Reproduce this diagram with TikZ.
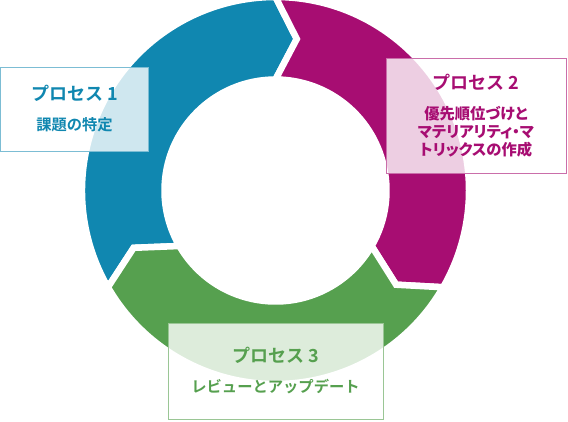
\documentclass[tikz,border=0pt]{standalone}
\usepackage{fontspec}
\setmainfont{Noto Sans CJK JP}[BoldFont={Noto Sans CJK JP Bold}]
\newfontfamily\paltfont{Noto Sans CJK JP Bold}[RawFeature=+palt]
\usetikzlibrary{positioning}

\definecolor{procblue}{RGB}{16,135,176}
\definecolor{procmagenta}{RGB}{167,13,114}
\definecolor{procgreen}{RGB}{86,160,79}

\newcommand{\proctitle}{\fontsize{18}{18}\selectfont}
% one arrow of the ring: colour, tail angle, head angle
\newcommand{\ringpart}[3]{%
  \fill[#1, ring] (#2:193.5) arc[start angle=#2, end angle=#3, radius=193.5]
    -- (#3-8:153) -- (#3:111) arc[start angle=#3, end angle=#2, radius=111]
    -- (#2-8:153) -- cycle;}

\begin{document}
\begin{tikzpicture}[
      x=1pt, y=1pt,
      ring/.style={draw=white, line width=6.5pt, line join=miter},
      procbox/.style={fill=white, fill opacity=0.8, text opacity=1, line width=1pt,
        align=center, inner sep=0pt, font=\bfseries\fontsize{15.3}{18}\selectfont}
    ]
    \useasboundingbox (0,0) rectangle (568,-421);

    \begin{scope}[shift={(275.5,-190.5)}]
      \ringpart{procblue}{210}{90}
      \ringpart{procmagenta}{90}{-30}
      \ringpart{procgreen}{330}{210}
    \end{scope}

    \node[procbox, draw=procblue!55, text=procblue, minimum width=148pt, minimum height=84pt]
      (p1) at (74.5,-109) {{\proctitle プロセス 1}\\[12pt]課題の特定};
    \node[procbox, draw=procmagenta!60, text=procmagenta, minimum width=180pt, minimum height=115pt]
      (p2) at (476,-115.5) {{\proctitle プロセス 2}\\[12pt]{\paltfont 優先順位づけと}\\
        {\paltfont マテリアリティ・マ}\\{\paltfont トリックスの作成}};
    \node[procbox, draw=procgreen!60, text=procgreen, minimum width=215pt, minimum height=96pt]
      (p3) at (275.5,-371) {{\proctitle プロセス 3}\\[12pt]レビューとアップデート};
  \end{tikzpicture}
\end{document}
